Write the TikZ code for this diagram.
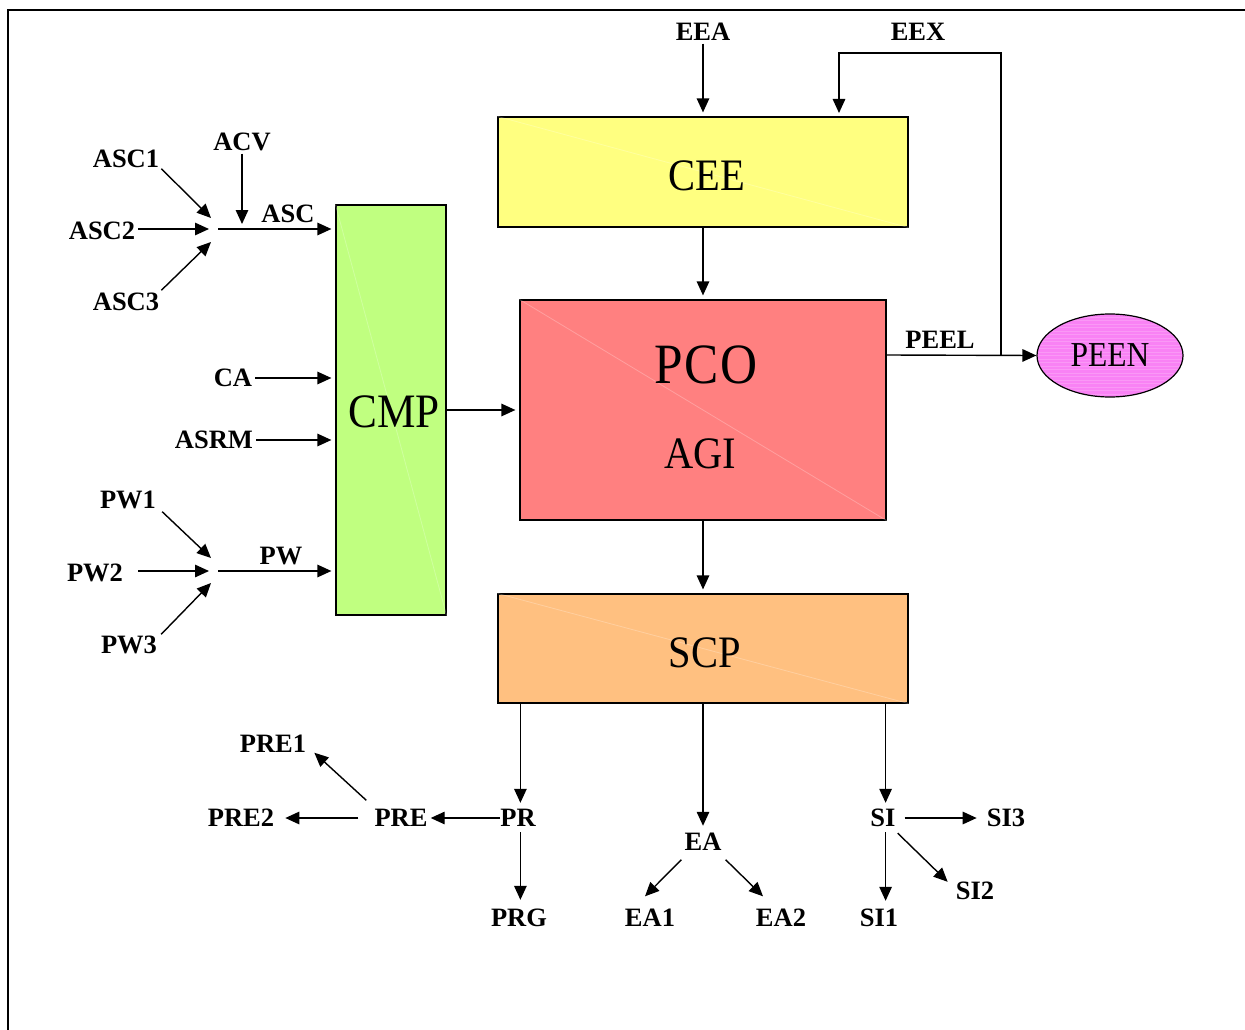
\documentclass[tikz,border=0pt]{standalone}
\usepackage{fontspec}
\setmainfont{Liberation Serif}
\newfontfamily\boxfont{Liberation Serif}[FakeStretch=0.9]
\usetikzlibrary{arrows.meta,calc,shapes.geometric}
\definecolor{ceeY}{HTML}{FFFF80}
\definecolor{pcoR}{HTML}{FF8080}
\definecolor{cmpG}{HTML}{C0FF80}
\definecolor{scpO}{HTML}{FFC080}
\definecolor{peenM}{HTML}{F982F5}
\begin{document}
\begin{tikzpicture}[x=1pt,y=-1pt,
  lbl/.style={font=\bfseries\fontsize{26.5pt}{28pt}\selectfont, inner sep=3pt, text height=17pt, text depth=0pt},
  box/.style={draw, line width=1.2pt, inner sep=0pt},
  bigt/.style={font=\boxfont\fontsize{#1pt}{#1pt}\selectfont, inner sep=0pt, anchor=base},
  diag/.style={white, opacity=0.25, line width=0.8pt},
  arr/.style={line width=1.4pt, -{Triangle[length=14pt,width=12.5pt]}}]
\useasboundingbox (0,0) rectangle (1245,1030);
\draw[line width=1.6pt] (8,1030) -- (8,10) -- (1245,10);

% boxes
\node[box, fill=ceeY, minimum width=410pt, minimum height=110pt] (CEE) at (703,172) {};
\draw[diag] (CEE.north west) -- (CEE.south east);
\node[bigt=45] (CEEt) at (707,190) {CEE};

\node[box, fill=pcoR, minimum width=366pt, minimum height=220pt] (PCO) at (703,410) {};
\draw[diag] (PCO.north west) -- (PCO.south east);
\node[bigt=57] (PCOt) at (706,383) {P\kern2pt C\kern2pt O};
\node[bigt=45] (AGIt) at (700,468) {AGI};

\node[box, fill=cmpG, minimum width=110pt, minimum height=410pt] (CMP) at (391,410) {};
\draw[diag] (CMP.north west) -- (CMP.south east);
\node[bigt=48] (CMPt) at (394,427) {CMP};

\node[box, fill=scpO, minimum width=410pt, minimum height=109pt] (SCP) at (703,648.5) {};
\draw[diag] (SCP.north west) -- (SCP.south east);
\node[bigt=45] (SCPt) at (705,667) {SCP};

\node[ellipse, draw, line width=1.2pt, fill=peenM, minimum width=146pt, minimum height=83pt, inner sep=0pt] (PEEN) at (1110,355.5) {};
\begin{scope}
  \clip (1110,355.5) ellipse [x radius=72, y radius=40.5];
  \foreach \yy in {317,320.5,...,396}
    \draw[white, opacity=0.18, line width=0.7pt] (1037,\yy) -- (1183,\yy);
\end{scope}
\node[bigt=35] (PEENt) at (1110,366) {PEEN};

% labels
\node[lbl] (EEA) at (703,32) {EEA};
\node[lbl] (EEX) at (918,32) {EEX};
\node[lbl] (PEEL) at (940,340) {PEEL};
\node[lbl] (ASC1) at (126,159) {ASC1};
\node[lbl] (ACV) at (242,142) {ACV};
\node[lbl] (ASC2) at (102,231) {ASC2};
\node[lbl] (ASC3) at (126,302) {ASC3};
\node[lbl] (ASC) at (288,214) {ASC};
\node[lbl] (CA) at (233,378) {CA};
\node[lbl] (ASRM) at (214,440) {ASRM};
\node[lbl] (PW1) at (128,500) {PW1};
\node[lbl] (PW2) at (95,573) {PW2};
\node[lbl] (PW3) at (129,645) {PW3};
\node[lbl] (PW) at (281,556) {PW};
\node[lbl] (PRE1) at (273,744) {PRE1};
\node[lbl] (PRE2) at (241,818) {PRE2};
\node[lbl] (PRE) at (401,818) {PRE};
\node[lbl] (PR) at (518,818) {PR};
\node[lbl] (PRG) at (519,918) {PRG};
\node[lbl] (EA) at (703,842) {EA};
\node[lbl] (EA1) at (650,918) {EA1};
\node[lbl] (EA2) at (781,918) {EA2};
\node[lbl] (SI) at (883,818) {SI};
\node[lbl] (SI3) at (1006,818) {SI3};
\node[lbl] (SI2) at (975,891) {SI2};
\node[lbl] (SI1) at (879,918) {SI1};

% junction points
\coordinate (jx) at (1001,355);
\coordinate (ceein) at (839,117);
\coordinate (ascj) at (218,229);
\coordinate (pwj) at (218,571);

% top connectors
\draw[arr, shorten >=4pt] (EEA.south) -- (EEA.south |- CEE.north);
\draw[arr, shorten >=4pt] (jx) |- ($(EEX.south)+(0,9.5)$) -| (ceein);
\draw[arr, shorten >=4pt] (CEE.south) -- (PCO.north);
\draw[arr, shorten >=4pt] (CMP.east) -- (CMP.east -| PCO.west);
\draw[arr, shorten >=4pt] (PCO.south) -- (SCP.north);
\draw[arr] (PCO.east |- jx) -- (PEEN.west);

% left connectors
\draw[arr] ($(ASC1.south east)+(-1,-2)$) -- ($(ascj)+(-7,-11)$);
\draw[arr] (ASC2.east |- ascj) -- ($(ascj)+(-9,0)$);
\draw[arr] ($(ASC3.north east)+(-1,0)$) -- ($(ascj)+(-7,13)$);
\draw[arr, shorten >=5pt] (ACV.south) -- (ACV.south |- ascj);
\draw[arr, shorten >=4pt] (ascj) -- (ascj -| CMP.west);
\draw[arr, shorten >=4pt] (CA.east) -- (CA.east -| CMP.west);
\draw[arr, shorten >=4pt] (ASRM.east) -- (ASRM.east -| CMP.west);
\draw[arr] ($(PW1.south east)+(3,0)$) -- ($(pwj)+(-7,-13)$);
\draw[arr] ($(PW2.east |- pwj)+(12,0)$) -- ($(pwj)+(-9,0)$);
\draw[arr] ($(PW3.north east)+(1,1)$) -- ($(pwj)+(-7,12)$);
\draw[arr, shorten >=4pt] (pwj) -- (pwj -| CMP.west);

% bottom connectors
\coordinate (prtop) at ($(SCP.south west)+(23,0)$);
\draw[arr, shorten >=3.5pt] (prtop) -- (prtop |- PR.north);
\draw[arr] ($(PR.west)+(3,0)$) -- (PRE.east);
\draw[arr, shorten <=13pt, shorten >=8pt] (PRE.west) -- (PRE2.east);
\draw[arr] ($(PRE.north west)+(-5,-6)$) -- ($(PRE1.south east)+(5,-3)$);
\draw[arr, shorten <=2.5pt, shorten >=6.5pt] (prtop |- PR.south) -- (prtop |- PRG.north);

\draw[arr, shorten >=4.5pt] (SCP.south) -- (EA.north);
\draw[arr] ($(EA.south west)+(0,6)$) -- ($(EA1.north)+(-5,-10)$);
\draw[arr] ($(EA.south east)+(1,6)$) -- ($(EA2.north)+(-18,-10)$);

\coordinate (sitop) at ($(SCP.south east)+(-23,0)$);
\draw[arr, shorten >=3.5pt] (sitop) -- (sitop |- SI.north);
\draw[arr, shorten <=6pt, shorten >=7pt] (SI.east) -- (SI3.west);
\draw[arr] ($(SI.south east)+(-1,3.5)$) -- ($(SI2.north west)+(-5,2.5)$);
\draw[arr, shorten <=2.5pt, shorten >=5.5pt] (sitop |- SI.south) -- (sitop |- SI1.north);
\end{tikzpicture}
\end{document}
